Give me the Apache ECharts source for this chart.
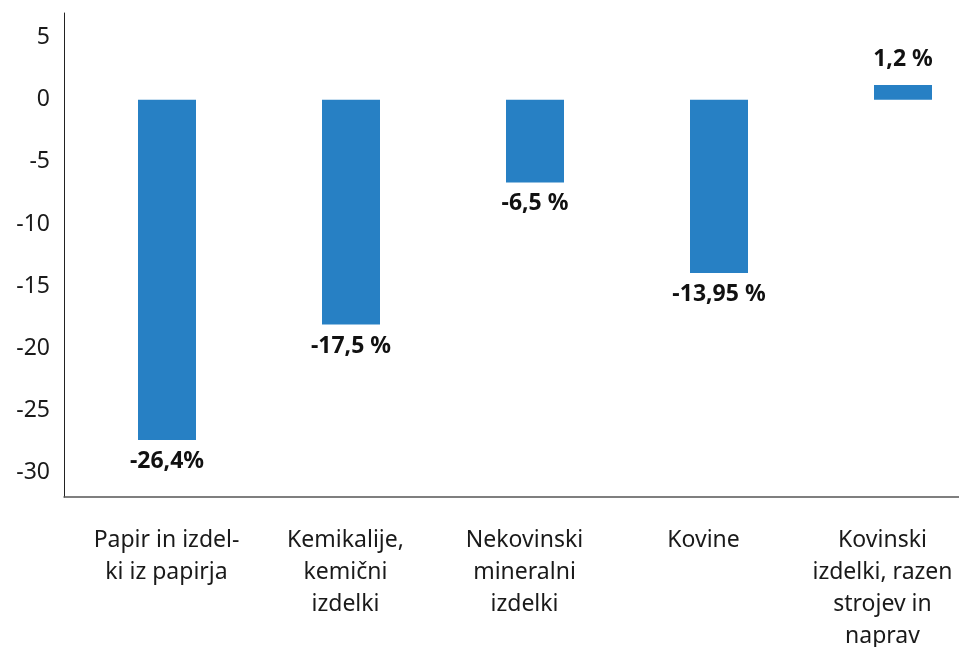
<!DOCTYPE html>
<html>
<head>
<meta charset="utf-8">
<script src="https://cdn.jsdelivr.net/npm/echarts@6/dist/echarts.min.js"></script>
<style>
	html, body { margin: 0; padding: 0; background: #fff; }
	#main { width: 959px; height: 647px; }
</style>
</head>
<body>
<div id="main"></div>
<script>
var categories = ['Papir in izdel-\nki iz papirja', 'Kemikalije,\nkemični\nizdelki', 'Nekovinski\nmineralni\nizdelki', 'Kovine', 'Kovinski\nizdelki, razen\nstrojev in\nnaprav'];
var values = [-27.4, -18.1, -6.65, -13.95, 1.2];
var labelTexts = ['-26,4%', '-17,5 %', '-6,5 %', '-13,95 %', '1,2 %'];
var yMin = -32, yMax = 7;

var font = '"Noto Sans", sans-serif';
var myChart = echarts.init(document.getElementById('main'));

var option = {
	animation: false,
	grid: [
		// bars
		{ left: 75, right: -36, top: 13, bottom: 150, outerBoundsMode: 'none' },
		// axis lines + y labels
		{ left: 64, right: 0, top: 13, bottom: 150, outerBoundsMode: 'none' },
		// category labels (slightly tighter spacing than the bars)
		{ left: 77, right: -13, top: 13, bottom: 150, outerBoundsMode: 'none' }
	],
	xAxis: [{
		gridIndex: 0,
		type: 'category',
		data: categories,
		show: false
	}, {
		gridIndex: 1,
		type: 'category',
		data: [''],
		axisLine: { onZero: false, lineStyle: { color: '#555', width: 1.5 } },
		axisTick: { show: false },
		axisLabel: { show: false }
	}, {
		gridIndex: 2,
		type: 'category',
		data: categories,
		axisLine: { show: false },
		axisTick: { show: false },
		axisLabel: {
			margin: 27,
			fontFamily: font,
			fontSize: 23,
			lineHeight: 32,
			color: '#1a1a1a',
			interval: 0
		}
	}],
	yAxis: [{
		gridIndex: 0,
		type: 'value',
		min: yMin,
		max: yMax,
		show: false
	}, {
		gridIndex: 1,
		type: 'value',
		min: yMin,
		max: yMax,
		interval: 1,
		axisLine: { show: true, onZero: false, lineStyle: { color: '#222', width: 1 } },
		axisTick: { show: false },
		splitLine: { show: false },
		axisLabel: {
			margin: 14,
			fontFamily: font,
			fontSize: 23,
			color: '#1a1a1a',
			formatter: function(v) {
				return (v % 5 === 0) ? String(v) : '';
			}
		}
	}, {
		gridIndex: 2,
		type: 'value',
		min: yMin,
		max: yMax,
		show: false
	}],
	series: [{
		type: 'bar',
		xAxisIndex: 0,
		yAxisIndex: 0,
		data: values.map(function(v) {
			return v >= 0 ? { value: v, label: { position: 'top', distance: 14 } } : v;
		}),
		barWidth: 58,
		itemStyle: { color: '#2780c4' },
		label: {
			show: true,
			fontFamily: font,
			fontSize: 23,
			fontWeight: 'bold',
			color: '#111',
			distance: 10,
			position: 'bottom',
			formatter: function(p) {
				return labelTexts[p.dataIndex];
			}
		}
	}]
};

myChart.setOption(option);
</script>
</body>
</html>
